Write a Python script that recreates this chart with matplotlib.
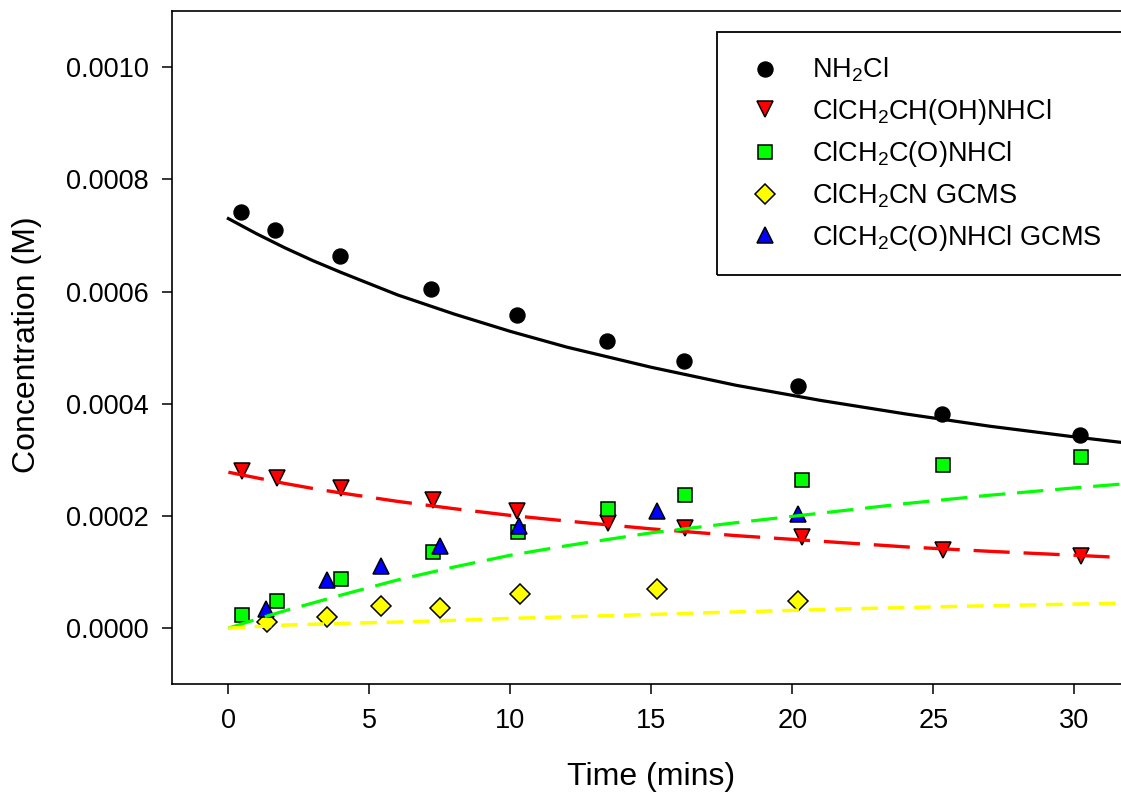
import matplotlib
matplotlib.use("Agg")
import matplotlib.pyplot as plt
from matplotlib.patches import Rectangle

plt.rcParams["font.family"] = ["Liberation Sans", "DejaVu Sans"]
plt.rcParams["mathtext.default"] = "regular"
plt.rcParams["lines.scale_dashes"] = False

# measured points
t_nh2cl = [0.46, 1.65, 3.95, 7.20, 10.22, 13.43, 16.17, 20.21, 25.30, 30.20]
c_nh2cl = [0.000741, 0.000710, 0.000663, 0.000604, 0.000558, 0.000512,
           0.000476, 0.000431, 0.000381, 0.000344]

t_ohnhcl = [0.50, 1.71, 3.98, 7.25, 10.24, 13.47, 16.20, 20.36, 25.34, 30.24]
c_ohnhcl = [0.000280, 0.000268, 0.000250, 0.000228, 0.000209, 0.000188,
            0.000178, 0.000162, 0.000140, 0.000128]

t_amide = [0.50, 1.71, 4.00, 7.25, 10.26, 13.47, 16.20, 20.36, 25.34, 30.24]
c_amide = [0.0000237, 0.0000487, 0.0000880, 0.000136, 0.000172, 0.000213,
           0.000237, 0.000265, 0.000290, 0.000306]

t_cn_gcms = [1.38, 3.48, 5.43, 7.49, 10.33, 15.20, 20.22]
c_cn_gcms = [0.0000118, 0.0000207, 0.0000398, 0.0000357, 0.0000607,
             0.0000701, 0.0000493]

t_amide_gcms = [1.32, 3.48, 5.42, 7.49, 10.32, 15.20, 20.22]
c_amide_gcms = [0.0000339, 0.0000862, 0.000111, 0.000146, 0.000183,
                0.000209, 0.000204]

# model curves
t_fit = [0, 1, 2, 3, 4, 6, 8, 10, 12, 15, 18, 21, 24, 27, 30, 31.7]
fit_nh2cl = [0.000730, 0.000703, 0.000678, 0.000655, 0.000634, 0.000594,
             0.000560, 0.000529, 0.000501, 0.000465, 0.000433, 0.000406,
             0.000382, 0.000360, 0.000341, 0.000331]
fit_ohnhcl = [0.000278, 0.000268, 0.000258, 0.000249, 0.000241, 0.000226,
              0.000213, 0.000201, 0.000191, 0.000177, 0.000165, 0.000155,
              0.000145, 0.000137, 0.000130, 0.000126]
fit_amide = [0.0, 0.000016, 0.000031, 0.000045, 0.000059, 0.000086,
             0.000109, 0.000130, 0.000147, 0.000170, 0.000188, 0.000205,
             0.000222, 0.000237, 0.000250, 0.000257]

t_fit_cn = [0, 1, 2, 4, 6, 8, 10, 14, 18, 22, 26, 31.7]
fit_cn = [0.0, 0.0000030, 0.0000055, 0.0000085, 0.0000110, 0.0000140,
          0.0000175, 0.0000230, 0.0000290, 0.0000345, 0.0000390, 0.0000446]

labels = [r"NH$_2$Cl", r"ClCH$_2$CH(OH)NHCl", r"ClCH$_2$C(O)NHCl",
          r"ClCH$_2$CN GCMS", r"ClCH$_2$C(O)NHCl GCMS"]

fig = plt.figure(figsize=(11.21, 7.98), dpi=100)
ax = fig.add_axes([172 / 1121, 1 - 684.3 / 798, 949 / 1121, 673.3 / 798])

ax.plot(t_nh2cl, c_nh2cl, "o", ms=10.8, mfc="black", mec="black", label=labels[0])
ax.plot(t_ohnhcl, c_ohnhcl, "v", ms=11.5, mfc="#ff0000", mec="black", mew=1.1, label=labels[1])
ax.plot(t_amide, c_amide, "s", ms=10.3, mfc="#00ff00", mec="black", mew=1.1, label=labels[2])
ax.plot(t_cn_gcms, c_cn_gcms, "D", ms=9.8, mfc="#ffff00", mec="black", mew=1.1, label=labels[3])
ax.plot(t_amide_gcms, c_amide_gcms, "^", ms=11.5, mfc="#0000ff", mec="black", mew=1.1, label=labels[4])

ax.plot(t_fit, fit_nh2cl, "-", color="black", lw=2.3, zorder=3)
ax.plot(t_fit, fit_ohnhcl, color="#ff0000", lw=2.4, dashes=[26, 10], zorder=3)
ax.plot(t_fit, fit_amide, color="#00ff00", lw=2.3, dashes=[19, 8.5], zorder=3)
ax.plot(t_fit_cn, fit_cn, color="#ffff00", lw=2.5, dashes=[12, 7], zorder=3)

ax.set_xlim(-2, 31.66)
ax.set_ylim(-0.0001, 0.0011)
ax.set_xticks([0, 5, 10, 15, 20, 25, 30])
ax.set_yticks([0, 0.0002, 0.0004, 0.0006, 0.0008, 0.0010])
ax.set_yticklabels(["0.0000", "0.0002", "0.0004", "0.0006", "0.0008", "0.0010"])
ax.tick_params(direction="out", length=7, width=1.1, labelsize=19.5, pad=10)
ax.spines["right"].set_visible(False)
for s in ["left", "top", "bottom"]:
    ax.spines[s].set_linewidth(1.2)

ax.set_xlabel("Time (mins)", fontsize=23)
ax.set_ylabel("Concentration (M)", fontsize=23)
ax.xaxis.set_label_coords(0.505, -0.115)
ax.yaxis.set_label_coords(-0.137, 0.504)

# legend box runs off the right edge as in the original
box = Rectangle((717 / 1121, 1 - 275 / 798), 0.4, (275 - 32) / 798,
                transform=fig.transFigure, fill=False, lw=1.3, ec="black",
                clip_on=False, zorder=5)
fig.patches.append(box)
ax.legend(loc="upper left", bbox_to_anchor=(751 / 1121, 1 - 56 / 798),
          bbox_transform=fig.transFigure, frameon=False, fontsize=19.5,
          handlelength=1.0, handletextpad=1.24, labelspacing=0.46,
          numpoints=1, borderpad=0, borderaxespad=0)

fig.savefig("out.png", dpi=100)
